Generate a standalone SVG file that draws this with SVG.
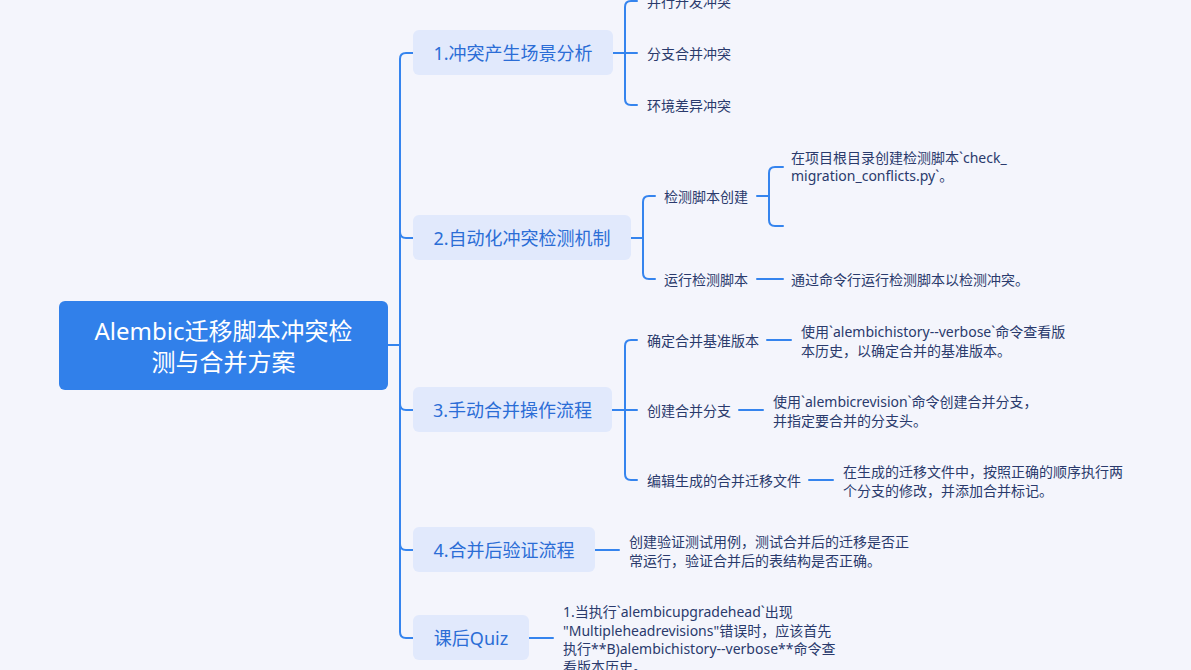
<svg xmlns="http://www.w3.org/2000/svg" width="1191" height="670" viewBox="0 0 1191 670">
<style>
.c{fill:none;stroke:#3584ee;stroke-width:2;stroke-linecap:round}
.root{fill:#3180ea}
.rt{font-family:"Noto Sans","Noto Sans CJK SC",sans-serif;font-size:24px;fill:#ffffff;text-anchor:middle;dominant-baseline:central}
.n1{fill:#e1e9fc}
.t1{font-family:"Noto Sans","Noto Sans CJK SC",sans-serif;font-size:18px;fill:#2b6dd6;text-anchor:middle;dominant-baseline:central}
.t2{font-family:"Noto Sans","Noto Sans CJK SC",sans-serif;font-size:14px;fill:#2a3a6c;dominant-baseline:central}
</style>
<rect width="1191" height="670" fill="#f4f5fc"/>
<g id="connectors">
<path class="c" d="M388 345 H400"/>
<path class="c" d="M400 345 V59 Q400 53 406 53 H413"/>
<path class="c" d="M400 345 V232 Q400 238 406 238 H413" transform="translate(0,0)"/>
<path class="c" d="M400 345 V404 Q400 410 406 410 H413"/>
<path class="c" d="M400 345 V544 Q400 550 406 550 H413"/>
<path class="c" d="M400 345 V632 Q400 638 406 638 H413"/>
<path class="c" d="M613 53 H625"/>
<path class="c" d="M625 53 V7 Q625 1 631 1 H637"/>
<path class="c" d="M625 53 H637"/>
<path class="c" d="M625 53 V99 Q625 105 631 105 H637"/>
<path class="c" d="M631 238 H643"/>
<path class="c" d="M643 238 V202 Q643 196 649 196 H655"/>
<path class="c" d="M643 238 V273 Q643 279 649 279 H655"/>
<path class="c" d="M757 196 H769"/>
<path class="c" d="M769 196 V173 Q769 167 775 167 H783"/>
<path class="c" d="M769 196 V220 Q769 226 775 226 H783"/>
<path class="c" d="M757 279 H783"/>
<path class="c" d="M612 410 H625"/>
<path class="c" d="M625 410 V346 Q625 340 631 340 H637"/>
<path class="c" d="M625 410 H637"/>
<path class="c" d="M625 410 V474 Q625 480 631 480 H637"/>
<path class="c" d="M767 340 H791"/>
<path class="c" d="M739 410 H763"/>
<path class="c" d="M809 480 H833"/>
<path class="c" d="M595 550 H619"/>
<path class="c" d="M529 638 H553"/>
</g>
<g id="root">
<rect class="root" x="59" y="301" width="329" height="89" rx="6"/>
<text class="rt" x="223.5" y="330">Alembic迁移脚本冲突检</text>
<text class="rt" x="223.5" y="361">测与合并方案</text>
</g>
<g id="n1">
<rect class="n1" x="413" y="30" width="200" height="45" rx="6"/>
<text class="t1" x="513" y="53">1.冲突产生场景分析</text>
</g>
<g id="n1a"><text class="t2" x="647" y="1">并行开发冲突</text></g>
<g id="n1b"><text class="t2" x="647" y="53">分支合并冲突</text></g>
<g id="n1c"><text class="t2" x="647" y="105">环境差异冲突</text></g>
<g id="n2">
<rect class="n1" x="413" y="215" width="218" height="45" rx="6"/>
<text class="t1" x="522" y="238">2.自动化冲突检测机制</text>
</g>
<g id="n2a"><text class="t2" x="664" y="196">检测脚本创建</text></g>
<g id="n2a1"><text class="t2" x="791" y="157">在项目根目录创建检测脚本`check_</text><text class="t2" x="791" y="175">migration_conflicts.py`。</text></g>
<g id="n2b"><text class="t2" x="664" y="279">运行检测脚本</text></g>
<g id="n2b1"><text class="t2" x="791" y="279">通过命令行运行检测脚本以检测冲突。</text></g>
<g id="n3">
<rect class="n1" x="413" y="387" width="199" height="45" rx="6"/>
<text class="t1" x="512.5" y="410">3.手动合并操作流程</text>
</g>
<g id="n3a"><text class="t2" x="647" y="340">确定合并基准版本</text></g>
<g id="n3a1"><text class="t2" x="801" y="331">使用`alembichistory--verbose`命令查看版</text><text class="t2" x="801" y="350">本历史，以确定合并的基准版本。</text></g>
<g id="n3b"><text class="t2" x="647" y="410">创建合并分支</text></g>
<g id="n3b1"><text class="t2" x="773" y="401">使用`alembicrevision`命令创建合并分支，</text><text class="t2" x="773" y="420">并指定要合并的分支头。</text></g>
<g id="n3c"><text class="t2" x="647" y="480">编辑生成的合并迁移文件</text></g>
<g id="n3c1"><text class="t2" x="843" y="471">在生成的迁移文件中，按照正确的顺序执行两</text><text class="t2" x="843" y="490">个分支的修改，并添加合并标记。</text></g>
<g id="n4">
<rect class="n1" x="413" y="527" width="182" height="45" rx="6"/>
<text class="t1" x="504" y="550">4.合并后验证流程</text>
</g>
<g id="n4a"><text class="t2" x="629" y="541">创建验证测试用例，测试合并后的迁移是否正</text><text class="t2" x="629" y="560">常运行，验证合并后的表结构是否正确。</text></g>
<g id="n5">
<rect class="n1" x="413" y="615" width="116" height="45" rx="6"/>
<text class="t1" x="471" y="638">课后Quiz</text>
</g>
<g id="n5a"><text class="t2" x="563" y="611">1.当执行`alembicupgradehead`出现</text><text class="t2" x="563" y="630">"Multipleheadrevisions"错误时，应该首先</text><text class="t2" x="563" y="648">执行**B)alembichistory--verbose**命令查</text><text class="t2" x="563" y="666">看版本历史。</text></g>
</svg>
